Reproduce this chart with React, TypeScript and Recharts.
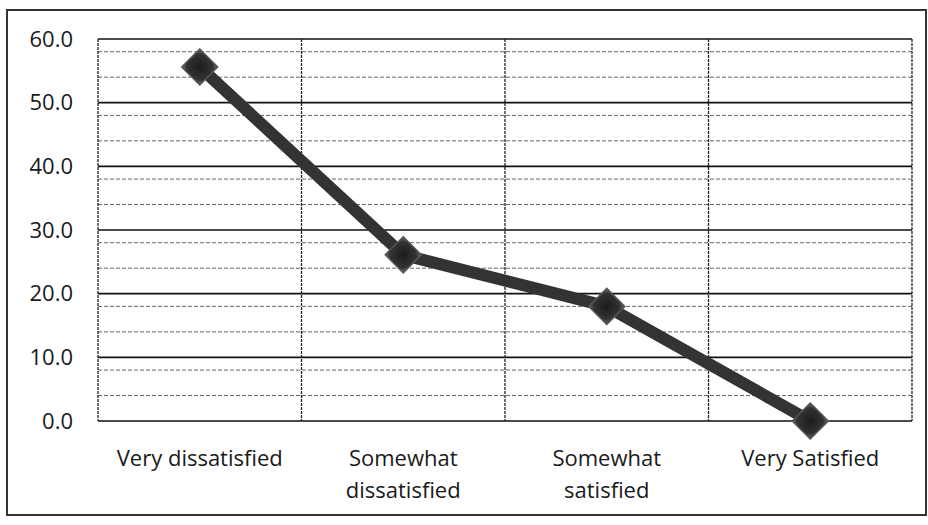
import { LineChart, Line, XAxis, YAxis, CartesianGrid } from "recharts";

const categories = [
  "Very dissatisfied",
  "Somewhat dissatisfied",
  "Somewhat satisfied",
  "Very Satisfied",
];
const percentages = [55.6, 26.1, 18.0, 0.0];
const yTicks = [0, 10, 20, 30, 40, 50, 60];
const minorTicks = [2, 4, 6, 8, 12, 14, 16, 18, 22, 24, 26, 28, 32, 34, 36, 38, 42, 44, 46, 48, 52, 54, 56, 58];

const data = categories.map((name, i) => ({ name, value: percentages[i] }));

const FONT = "'Open Sans', 'Noto Sans', sans-serif";

// long labels wrap after the first word, like Excel does here
function splitLabel(label: string) {
  if (label.length <= 17) return [label];
  const i = label.indexOf(" ");
  return [label.slice(0, i), label.slice(i + 1)];
}

// vertical gridlines sit between categories (band edges), not on them
function bandEdges({ offset }: any) {
  const step = offset.width / categories.length;
  return [0, ...categories.map((_, i) => i + 1)].map((k) => offset.left + k * step);
}

function CategoryTick({ x, y, payload }: any) {
  const lines = splitLabel(String(payload.value));
  return (
    <text x={x} y={y} textAnchor="middle" fill="#1a1a1a" fontSize={22} fontFamily={FONT}>
      {lines.map((line, i) => (
        <tspan key={i} x={x} dy={i === 0 ? 16 : 32}>
          {line}
        </tspan>
      ))}
    </text>
  );
}

function DiamondDot({ cx, cy, index }: any) {
  if (cx == null || cy == null) return null;
  const r = 18;
  const pts = `${cx},${cy - r} ${cx + r},${cy} ${cx},${cy + r} ${cx - r},${cy}`;
  return (
    <g key={`dot-${index}`}>
      <polygon points={pts} fill="url(#diamondFill)" stroke="#555" strokeWidth={1.5} />
    </g>
  );
}

export default function App() {
  return (
    <div style={{ position: "absolute", left: 0, top: 0, width: 928, height: 525, background: "#fff" }}>
      <div
        style={{
          position: "absolute",
          left: 6,
          top: 9,
          width: 917,
          height: 503,
          border: "2px solid #333",
        }}
      />
      <LineChart
        width={928}
        height={525}
        data={data}
        margin={{ top: 39, right: 16, bottom: 14, left: 0 }}
        style={{ position: "absolute", left: 0, top: 0 }}
      >
        <defs>
          <radialGradient id="diamondFill" cx="50%" cy="50%" r="60%">
            <stop offset="0%" stopColor="#1c1c1c" />
            <stop offset="60%" stopColor="#333" />
            <stop offset="100%" stopColor="#9a9a9a" />
          </radialGradient>
        </defs>
        <CartesianGrid vertical={false} horizontalValues={minorTicks} stroke="#666" strokeDasharray="4 2" />
        <CartesianGrid vertical={false} stroke="#111" strokeWidth={1.6} />
        <CartesianGrid
          horizontal={false}
          verticalCoordinatesGenerator={bandEdges}
          stroke="#222"
          strokeWidth={1.3}
          strokeDasharray="3 1"
        />
        <XAxis
          dataKey="name"
          scale="band"
          height={90}
          axisLine={false}
          tickLine={false}
          tickSize={0}
          tickMargin={29}
          interval={0}
          tick={<CategoryTick />}
        />
        <YAxis
          width={98}
          domain={[0, 60]}
          ticks={yTicks}
          axisLine={false}
          tickLine={false}
          tickSize={0}
          tickMargin={25}
          tickFormatter={(v: number) => v.toFixed(1)}
          tick={{ fill: "#1a1a1a", fontSize: 22, fontFamily: FONT }}
        />
        <Line
          type="linear"
          dataKey="value"
          stroke="#333"
          strokeWidth={12}
          strokeLinejoin="round"
          dot={<DiamondDot />}
          activeDot={false}
          isAnimationActive={false}
        />
      </LineChart>
    </div>
  );
}
